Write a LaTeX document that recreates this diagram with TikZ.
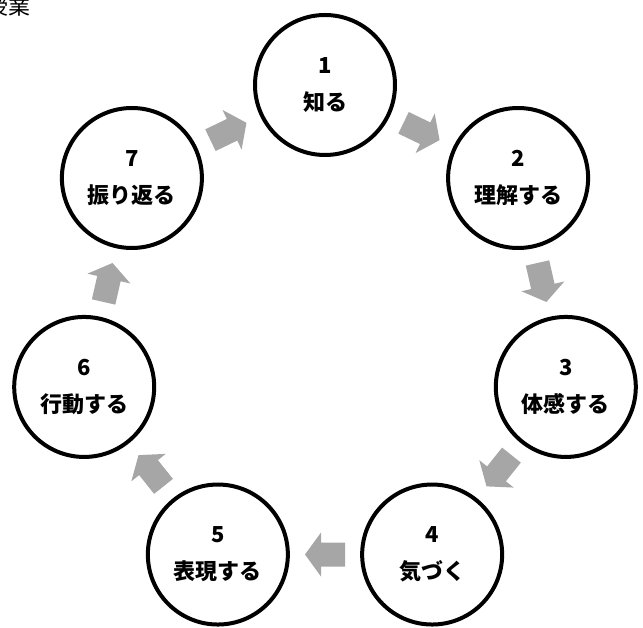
\documentclass[tikz,border=0pt]{standalone}
\usepackage{fontspec}
\usetikzlibrary{calc}
\newfontfamily\jp{Noto Sans CJK JP}
\definecolor{arrowgray}{HTML}{A6A6A6}
\tikzset{
  stage/.style={circle, draw=black, line width=4pt, minimum size=140pt, inner sep=0pt,
    align=center, font=\jp\bfseries\fontsize{22}{37}\selectfont},
  flowarrow/.style={fill=arrowgray, draw=none},
  header/.style={anchor=east, inner sep=0pt, font=\jp\fontsize{22}{22}\selectfont},
}
\begin{document}
\begin{tikzpicture}[x=1pt,y=1pt]
\useasboundingbox (0,0) rectangle (643,628);
\coordinate (O) at (325,296);
\node[header] (hdr) at (31,622) {授業};
\foreach \k/\t in {1/知る,2/理解する,3/体感する,4/気づく,5/表現する,6/行動する,7/振り返る} {
  \node[stage] (c\k) at ($(O)+({90-(\k-1)*360/7}:247)$) {\k\\\t};
}
\foreach \k [evaluate=\k as \n using {int(mod(\k,7)+1)}] in {1,...,7} {
  \pgfmathsetmacro\ang{90-(\k-1)*360/7-180/7-90}
  \begin{scope}[shift={($(c\k.center)!0.5!(c\n.center)$)}, rotate=\ang]
    \fill[flowarrow] (-20,-12) -- (4,-12) -- (4,-22) -- (20,0) -- (4,22) -- (4,12) -- (-20,12) -- cycle;
  \end{scope}
}
\end{tikzpicture}
\end{document}
